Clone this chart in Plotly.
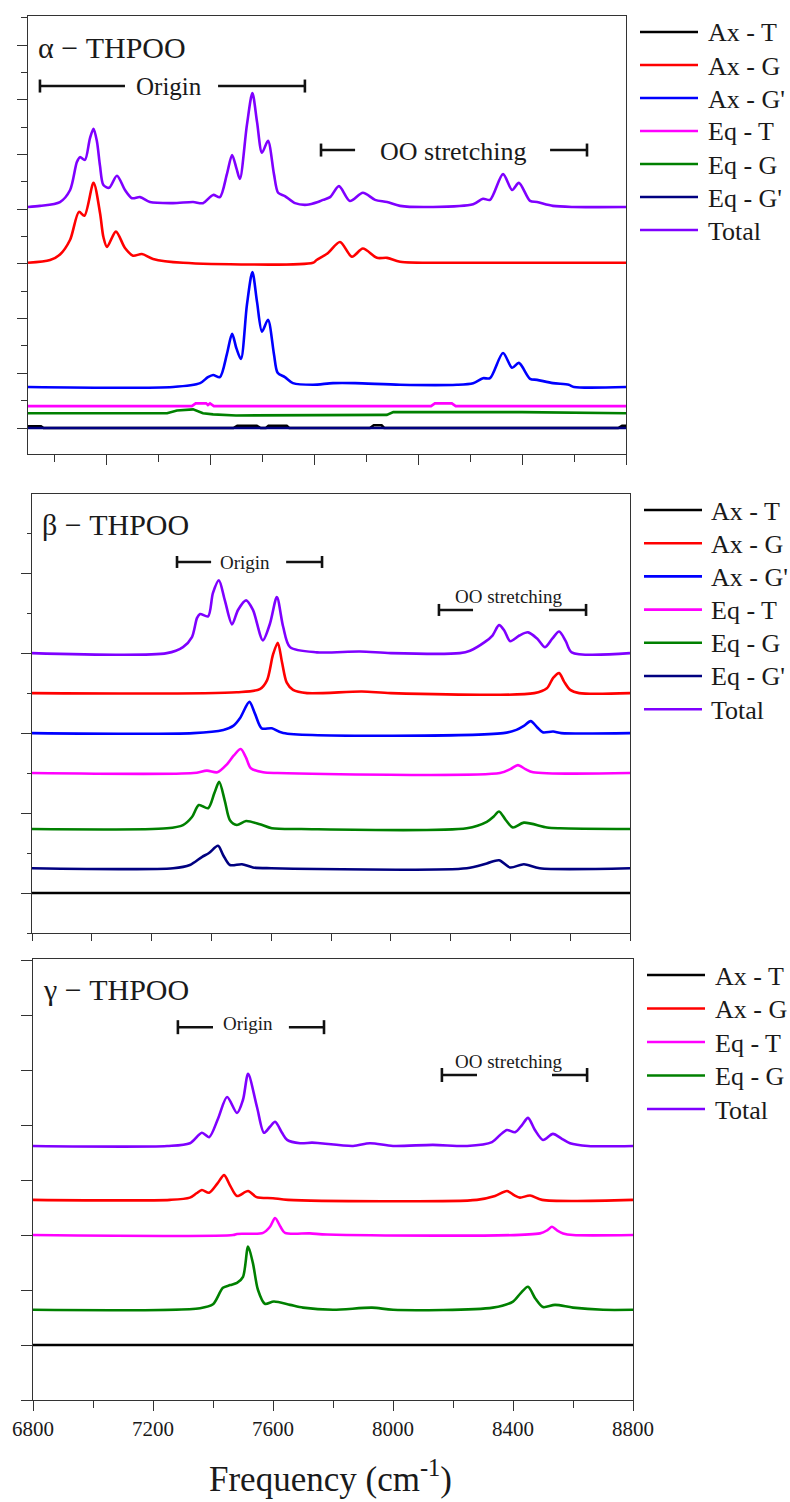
import plotly.graph_objects as go

W, H = 790, 1502
FONT = "Liberation Serif"
TEXT = "#1a1a1a"

NAMES = ["Ax - T", "Ax - G", "Ax - G'", "Eq - T", "Eq - G", "Eq - G'", "Total"]
COLORS = {
    "Ax - T": "#000000", "Ax - G": "#FF0000", "Ax - G'": "#0000FF",
    "Eq - T": "#FF00FF", "Eq - G": "#008000", "Eq - G'": "#000080",
    "Total": "#7F00FF",
}

# ---------------- alpha-THPOO : (frequency cm-1, intensity) ----------------
alpha_ax_t = [(6500, 0.03), (6550, 0.03), (6560, 0.0), (7290, 0.0), (7305, 0.04),
              (7380, 0.04), (7395, 0.0), (7415, 0.0), (7425, 0.04), (7495, 0.04),
              (7505, 0.0), (7815, 0.0), (7830, 0.05), (7860, 0.05), (7870, 0.0),
              (8770, 0.0), (8785, 0.04), (8800, 0.04)]
alpha_ax_g = [(6500, 0.0), (6585, 0.05), (6623, 0.15), (6662, 0.42), (6696, 0.93),
              (6717, 0.86), (6752, 1.46), (6777, 0.91), (6790, 0.47), (6804, 0.29),
              (6838, 0.57), (6873, 0.27), (6904, 0.13), (6938, 0.16), (6981, 0.07),
              (7096, 0.0), (7596, 0.0), (7610, 0.05), (7654, 0.18), (7700, 0.38),
              (7746, 0.11), (7788, 0.26), (7842, 0.09), (7881, 0.09), (7931, 0.02),
              (8123, 0.0), (8800, 0.0)]
alpha_ax_gp = [(6500, 0.0), (7058, 0.0), (7162, 0.07), (7192, 0.18), (7212, 0.22),
               (7238, 0.18), (7265, 0.6), (7285, 0.97), (7302, 0.7), (7319, 0.51),
               (7342, 1.5), (7363, 2.1), (7381, 1.55), (7400, 1.01), (7423, 1.23),
               (7446, 0.6), (7460, 0.26), (7488, 0.18), (7519, 0.07), (7596, 0.04),
               (7673, 0.07), (7758, 0.07), (7931, 0.04), (8150, 0.04), (8212, 0.07),
               (8250, 0.16), (8277, 0.16), (8327, 0.62), (8362, 0.35), (8388, 0.44),
               (8431, 0.15), (8458, 0.13), (8519, 0.07), (8580, 0.04), (8600, 0.0),
               (8800, 0.0)]
alpha_eq_t = [(6500, 0.0), (7130, 0.0), (7145, 0.05), (7185, 0.05), (7192, 0.02),
              (7200, 0.05), (7215, 0.0), (8050, 0.0), (8065, 0.05), (8130, 0.05),
              (8145, 0.0), (8800, 0.0)]
alpha_eq_g = [(6500, 0.0), (7035, 0.0), (7073, 0.05), (7135, 0.07), (7173, 0.0),
              (7212, -0.02), (7300, -0.04), (7600, -0.04), (7880, -0.03),
              (7905, 0.02), (8400, 0.02), (8800, 0.0)]
alpha_eq_gp = [(6500, 0.0), (8800, 0.0)]
alpha_total = [(6500, 0.0), (6546, 0.02), (6623, 0.09), (6662, 0.31), (6688, 0.82),
               (6700, 0.91), (6719, 0.86), (6738, 1.25), (6752, 1.43), (6765, 1.2),
               (6777, 0.75), (6790, 0.4), (6812, 0.35), (6842, 0.57), (6873, 0.31),
               (6900, 0.16), (6931, 0.18), (6969, 0.09), (7058, 0.07), (7135, 0.09),
               (7173, 0.07), (7212, 0.22), (7238, 0.18), (7265, 0.6), (7285, 0.95),
               (7302, 0.7), (7315, 0.51), (7342, 1.5), (7363, 2.08), (7381, 1.55),
               (7400, 0.99), (7423, 1.21), (7446, 0.6), (7462, 0.26), (7488, 0.2),
               (7527, 0.07), (7573, 0.04), (7615, 0.09), (7635, 0.13), (7662, 0.18),
               (7696, 0.38), (7738, 0.11), (7788, 0.26), (7835, 0.13), (7881, 0.09),
               (7931, 0.02), (8058, 0.0), (8212, 0.05), (8250, 0.15), (8277, 0.13),
               (8327, 0.6), (8362, 0.31), (8388, 0.44), (8431, 0.11), (8458, 0.09),
               (8519, 0.02), (8596, 0.0), (8800, 0.0)]
alpha_offsets = [0.0, 3.02, 0.75, 0.40, 0.27, 0.0, 4.04]
alpha_linear = ["Ax - T", "Eq - T", "Eq - G", "Eq - G'"]

# ---------------- beta-THPOO ----------------
beta_ax_t = [(6800, 0.0), (8800, 0.0)]
beta_ax_g = [(6800, 0.0), (7485, 0.01), (7562, 0.05), (7586, 0.16), (7606, 0.48),
             (7622, 0.63), (7636, 0.39), (7652, 0.13), (7673, 0.04), (7720, 0.0),
             (7903, 0.02), (8000, 0.0), (8480, 0.0), (8522, 0.06), (8543, 0.19),
             (8563, 0.25), (8580, 0.14), (8600, 0.04), (8630, 0.0), (8800, 0.0)]
beta_ax_gp = [(6800, 0.0), (7340, 0.0), (7440, 0.04), (7473, 0.09), (7496, 0.19),
              (7527, 0.39), (7546, 0.24), (7568, 0.06), (7602, 0.06), (7640, 0.0),
              (8376, 0.0), (8420, 0.04), (8445, 0.09), (8468, 0.15), (8490, 0.07),
              (8508, 0.01), (8543, 0.02), (8570, 0.0), (8800, 0.0)]
beta_eq_t = [(6800, 0.0), (7340, 0.0), (7385, 0.03), (7420, 0.01), (7452, 0.11),
             (7475, 0.22), (7498, 0.3), (7515, 0.2), (7532, 0.06), (7573, 0.01),
             (7620, 0.0), (8365, 0.0), (8400, 0.05), (8425, 0.1), (8450, 0.05),
             (8476, 0.01), (8800, 0.0)]
beta_eq_g = [(6800, 0.0), (7251, 0.01), (7305, 0.05), (7335, 0.15), (7358, 0.3),
             (7389, 0.26), (7410, 0.45), (7426, 0.59), (7445, 0.35), (7462, 0.11),
             (7485, 0.05), (7516, 0.1), (7562, 0.06), (7602, 0.01), (7700, 0.0),
             (8254, 0.01), (8321, 0.09), (8345, 0.16), (8362, 0.22), (8385, 0.11),
             (8408, 0.02), (8445, 0.08), (8522, 0.02), (8566, 0.01), (8800, 0.0)]
beta_eq_gp = [(6800, 0.0), (7272, 0.0), (7328, 0.04), (7368, 0.14), (7392, 0.19),
              (7422, 0.28), (7440, 0.16), (7462, 0.04), (7502, 0.05), (7539, 0.01),
              (7600, 0.0), (8254, 0.0), (8321, 0.06), (8362, 0.1), (8399, 0.01),
              (8445, 0.05), (8498, 0.0), (8800, 0.0)]
beta_total = [(6800, 0.0), (7251, 0.0), (7305, 0.075), (7335, 0.2), (7352, 0.44),
              (7362, 0.49), (7389, 0.46), (7405, 0.75), (7425, 0.91), (7445, 0.66),
              (7469, 0.36), (7489, 0.54), (7516, 0.66), (7539, 0.54), (7572, 0.16),
              (7596, 0.37), (7619, 0.7), (7640, 0.33), (7663, 0.075), (7753, 0.01),
              (7897, 0.02), (8000, 0.0), (8231, 0.0), (8265, 0.03), (8315, 0.14),
              (8340, 0.22), (8362, 0.35), (8380, 0.28), (8399, 0.15), (8430, 0.22),
              (8459, 0.26), (8490, 0.18), (8516, 0.075), (8540, 0.18), (8563, 0.27),
              (8585, 0.15), (8605, 0.01), (8800, 0.0)]
beta_offsets = [0.0, 2.5, 2.0, 1.5, 0.8, 0.31, 3.0]

# ---------------- gamma-THPOO ----------------
gamma_ax_t = [(6800, 0.0), (8800, 0.0)]
gamma_ax_g = [(6800, 0.0), (7257, 0.0), (7323, 0.04), (7345, 0.12), (7363, 0.18),
              (7387, 0.13), (7415, 0.3), (7437, 0.45), (7458, 0.25), (7480, 0.07),
              (7517, 0.16), (7545, 0.05), (7600, 0.03), (7650, 0.0), (8280, 0.0),
              (8340, 0.07), (8380, 0.16), (8405, 0.08), (8423, 0.04), (8457, 0.08),
              (8497, 0.0), (8800, 0.0)]
gamma_eq_t = [(6800, 0.0), (7467, 0.0), (7480, 0.02), (7567, 0.04), (7590, 0.15),
              (7607, 0.31), (7625, 0.15), (7640, 0.04), (7723, 0.03), (7780, 0.01),
              (8490, 0.03), (8515, 0.09), (8530, 0.15), (8548, 0.08), (8567, 0.03),
              (8600, 0.0), (8800, 0.0)]
gamma_eq_g = [(6800, 0.0), (7357, 0.03), (7400, 0.1), (7433, 0.4), (7457, 0.45),
              (7480, 0.49), (7500, 0.6), (7517, 1.15), (7533, 0.85), (7550, 0.36),
              (7573, 0.11), (7603, 0.15), (7657, 0.09), (7700, 0.04), (7800, 0.0),
              (7930, 0.04), (8000, 0.0), (8333, 0.04), (8400, 0.15), (8425, 0.3),
              (8450, 0.42), (8475, 0.2), (8500, 0.05), (8540, 0.09), (8600, 0.04),
              (8700, 0.0), (8800, 0.0)]
gamma_total = [(6800, 0.0), (7247, 0.0), (7323, 0.05), (7363, 0.24), (7387, 0.16),
               (7417, 0.5), (7447, 0.89), (7480, 0.6), (7500, 0.84), (7517, 1.31),
               (7547, 0.7), (7570, 0.24), (7590, 0.35), (7607, 0.44), (7630, 0.24),
               (7647, 0.11), (7690, 0.05), (7730, 0.06), (7757, 0.05), (7867, 0.0),
               (7923, 0.05), (8000, 0.0), (8133, 0.02), (8247, 0.0), (8330, 0.07),
               (8357, 0.2), (8380, 0.29), (8407, 0.25), (8430, 0.38), (8450, 0.51),
               (8473, 0.29), (8500, 0.11), (8533, 0.22), (8563, 0.13), (8590, 0.05),
               (8650, 0.0), (8800, 0.0)]
gamma_names = ["Ax - T", "Ax - G", "Eq - T", "Eq - G", "Total"]
gamma_offsets = [0.0, 2.64, 2.0, 0.64, 3.62]

# panel frames in pixels: (left, right, top, bottom)
PANELS = [
    dict(title="\u03b1 \u2212 THPOO", names=NAMES, offsets=alpha_offsets,
         series=[alpha_ax_t, alpha_ax_g, alpha_ax_gp, alpha_eq_t, alpha_eq_g,
                 alpha_eq_gp, alpha_total], linear=alpha_linear,
         box=(28, 626, 16, 454), xr=[6500, 8800], yr=[-0.475, 7.53],
         xtick=dict(dtick=400, tick0=6800, ticklen=10, minor=dict(dtick=200, ticklen=7)),
         ytick=dict(dtick=1, ticklen=10, minor=dict(dtick=0.5, ticklen=6)),
         legend=(640, 698, 706, 32, 33.0), title_y=48,
         origin=dict(y=6.25, x=(6546, 6873, 7231, 7565), tx=7042, size=25, ty=6.25),
         oo=dict(y=5.08, x=(7627, 7758, 8508, 8650), tx=8135, size=26, ty=5.06),
         cap=6.5),
    dict(title="\u03b2 \u2212 THPOO", names=NAMES, offsets=beta_offsets,
         series=[beta_ax_t, beta_ax_g, beta_ax_gp, beta_eq_t, beta_eq_g,
                 beta_eq_gp, beta_total], linear=["Ax - T"],
         box=(32, 630, 494, 933), xr=[6800, 8800], yr=[-0.5, 4.99],
         xtick=dict(dtick=200, tick0=6800, ticklen=7),
         ytick=dict(dtick=1, ticklen=10, minor=dict(dtick=0.5, ticklen=4)),
         legend=(644, 702, 709, 510, 33.2), title_y=524,
         origin=dict(y=4.14, x=(7285, 7399, 7650, 7770), tx=7512, size=19, ty=4.13),
         oo=dict(y=3.54, x=(8161, 8275, 8529, 8653), tx=8395, size=19, ty=3.71),
         cap=6),
    dict(title="\u03b3 \u2212 THPOO", names=gamma_names, offsets=gamma_offsets,
         series=[gamma_ax_t, gamma_ax_g, gamma_eq_t, gamma_eq_g, gamma_total],
         linear=["Ax - T"],
         box=(33, 633, 959, 1400), xr=[6800, 8800], yr=[-1.0, 7.02],
         xtick=dict(dtick=400, tick0=6800, ticklen=10, minor=dict(dtick=200, ticklen=7)),
         ytick=dict(dtick=1, ticklen=11),
         legend=(647, 705, 713, 975, 33.5), title_y=989,
         origin=dict(y=5.78, x=(7283, 7400, 7653, 7770), tx=7518, size=19, ty=5.85),
         oo=dict(y=4.91, x=(8163, 8280, 8530, 8647), tx=8385, size=19, ty=5.16),
         cap=7),
]


def px_x(v):
    return v / W


def px_y(v):
    return 1 - v / H


fig = go.Figure()
shapes, annotations = [], []

for i, p in enumerate(PANELS):
    k = "" if i == 0 else str(i + 1)
    xa, ya = "x" + k, "y" + k
    left, right, top, bottom = p["box"]

    for name, off, pts in zip(p["names"], p["offsets"], p["series"]):
        fx = [a for a, _ in pts]
        fy = [off + b for _, b in pts]
        fig.add_trace(go.Scatter(
            x=fx, y=fy, mode="lines", name=name, showlegend=False,
            xaxis=xa, yaxis=ya,
            line=dict(color=COLORS[name], width=2.6,
                      shape="linear" if name in p["linear"] else "spline",
                      smoothing=0.8),
            hoverinfo="skip"))

    axis_common = dict(showline=True, mirror=True, linecolor="#333333", linewidth=1.3,
                       showgrid=False, zeroline=False, ticks="outside",
                       tickcolor="#333333", tickwidth=1.3, automargin=False)
    xcfg = dict(axis_common, domain=[px_x(left), px_x(right)], range=p["xr"],
                anchor=ya, showticklabels=(i == 2), **p["xtick"])
    if i == 2:
        xcfg.update(tickfont=dict(family=FONT, size=21, color=TEXT))
    ycfg = dict(axis_common, domain=[px_y(bottom), px_y(top)], range=p["yr"],
                anchor=xa, showticklabels=False, tick0=0, **p["ytick"])
    fig.update_layout(**{("xaxis" + k): xcfg, ("yaxis" + k): ycfg})

    # panel title
    annotations.append(dict(text=p["title"], xref="paper", yref="paper",
                            x=px_x(left + 8), y=px_y(p["title_y"]),
                            xanchor="left", yanchor="middle", showarrow=False,
                            font=dict(family=FONT, size=30, color=TEXT)))

    # range brackets with labels
    for key, label in (("origin", "Origin"), ("oo", "OO stretching")):
        b = p[key]
        x0, x1, x2, x3 = b["x"]
        for a, c in ((x0, x1), (x2, x3)):
            shapes.append(dict(type="line", xref=xa, yref=ya, x0=a, x1=c,
                               y0=b["y"], y1=b["y"],
                               line=dict(color="#111111", width=2.6)))
        for c in (x0, x3):
            shapes.append(dict(type="line", xref=xa, yref=ya, x0=c, x1=c,
                               ysizemode="pixel", yanchor=b["y"],
                               y0=-p["cap"], y1=p["cap"],
                               line=dict(color="#111111", width=2.6)))
        annotations.append(dict(text=label, xref=xa, yref=ya, x=b["tx"], y=b["ty"],
                                xanchor="center", yanchor="middle", showarrow=False,
                                font=dict(family=FONT, size=b["size"], color=TEXT)))

    # legend block to the right of the panel
    lx0, lx1, tx, ly0, dy = p["legend"]
    for j, name in enumerate(p["names"]):
        yy = ly0 + j * dy
        shapes.append(dict(type="line", xref="paper", yref="paper",
                           x0=px_x(lx0), x1=px_x(lx1), y0=px_y(yy), y1=px_y(yy),
                           line=dict(color=COLORS[name], width=2.6)))
        annotations.append(dict(text=name, xref="paper", yref="paper",
                                x=px_x(tx), y=px_y(yy + 1), xanchor="left",
                                yanchor="middle", showarrow=False,
                                font=dict(family=FONT, size=26, color=TEXT)))

annotations.append(dict(text="Frequency (cm<sup>-1</sup>)", xref="paper", yref="paper",
                        x=px_x(330), y=px_y(1476), xanchor="center", yanchor="middle",
                        showarrow=False, font=dict(family=FONT, size=35, color=TEXT)))

fig.update_layout(width=W, height=H, margin=dict(l=0, r=0, t=0, b=0),
                  paper_bgcolor="white", plot_bgcolor="white",
                  showlegend=False, shapes=shapes, annotations=annotations)

fig.write_html("out.html")
